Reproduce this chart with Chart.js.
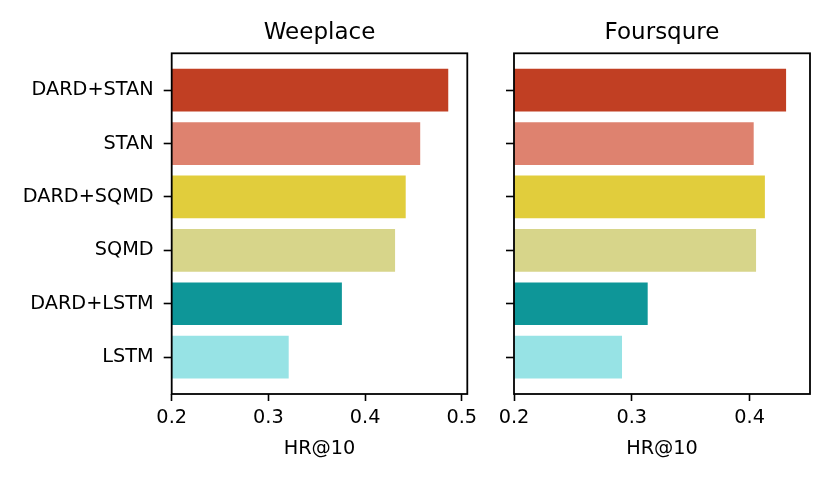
<!DOCTYPE html>
<html><head><meta charset="utf-8">
<script src="https://cdn.jsdelivr.net/npm/chart.js@4.4.0/dist/chart.umd.min.js"></script>
<style>
html,body{margin:0;padding:0;background:#fff;}
#wrap{position:relative;width:831px;height:478px;background:#fff;}
.box{position:absolute;top:0;height:478px;}
#b1{left:0;width:500px;}
#b2{left:480px;width:351px;}
</style></head><body>
<div id="wrap"><div class="box" id="b1"><canvas id="c1"></canvas></div><div class="box" id="b2"><canvas id="c2"></canvas></div></div>
<script>
const methods = ['DARD+STAN','STAN','DARD+SQMD','SQMD','DARD+LSTM','LSTM'];
const weeplaceHR = [0.486, 0.457, 0.442, 0.431, 0.376, 0.321];
const foursquareHR = [0.431, 0.4035, 0.413, 0.4055, 0.3135, 0.2917];
const barColors = ['#C13F23','#DE826F','#E1CD3C','#D7D58A','#0E9698','#97E3E5'];
const weeplaceTicks = [0.2, 0.3, 0.4, 0.5];
const foursquareTicks = [0.2, 0.3, 0.4];
const panelTitles = ['Weeplace', 'Foursqure'];
const xAxisTitle = 'HR@10';

const FONT = 'DejaVu Sans';
Chart.defaults.font.family = FONT;
Chart.defaults.color = '#000';

const framePlugin = {
  id: 'frame',
  afterDatasetsDraw(chart) {
    const {ctx, chartArea: a} = chart;
    ctx.save();
    ctx.strokeStyle = '#000';
    ctx.lineWidth = 1.8;
    ctx.strokeRect(a.left, a.top, a.right - a.left, a.bottom - a.top);
    ctx.restore();
  }
};

function makeChart(id, title, values, xTicks, xMax, showYLabels, yWidth, padRight) {
  return new Chart(document.getElementById(id), {
    type: 'bar',
    data: {
      datasets: [{
        data: values.map((v, i) => ({x: v, y: i})),
        backgroundColor: barColors,
        borderWidth: 0,
        categoryPercentage: 1,
        barPercentage: 0.8
      }]
    },
    plugins: [framePlugin],
    options: {
      indexAxis: 'y',
      responsive: true,
      maintainAspectRatio: false,
      animation: false,
      layout: {padding: {left: 0, right: padRight, top: 0, bottom: 0}},
      plugins: {
        legend: {display: false},
        tooltip: {enabled: false},
        title: {
          display: true,
          fullSize: false,
          text: title,
          color: '#000',
          font: {size: 23, weight: 'normal', family: FONT},
          padding: {top: 19, bottom: 6.7}
        }
      },
      scales: {
        x: {
          type: 'linear',
          min: 0.2,
          max: xMax,
          afterBuildTicks: s => { s.ticks = xTicks.map(v => ({value: v})); },
          afterFit: s => { s.height = 84; },
          grid: {display: true, drawOnChartArea: false, drawTicks: true, tickLength: 7, tickColor: '#000', tickWidth: 1.6},
          border: {display: false},
          ticks: {
            color: '#000',
            font: {size: 19.3, family: FONT},
            padding: 5,
            maxRotation: 0,
            autoSkip: false,
            callback: v => v.toFixed(1)
          },
          title: {
            display: true,
            text: xAxisTitle,
            color: '#000',
            font: {size: 19.3, family: FONT},
            padding: {top: 0, bottom: 17.6}
          }
        },
        y: {
          type: 'linear',
          min: -0.69,
          max: 5.69,
          reverse: true,
          offset: false,
          afterBuildTicks: s => { s.ticks = methods.map((_, i) => ({value: i})); },
          afterFit: s => { s.width = yWidth; },
          grid: {display: true, offset: false, drawOnChartArea: false, drawTicks: true, tickLength: 8, tickColor: '#000', tickWidth: 1.6},
          border: {display: false},
          ticks: {
            display: showYLabels,
            color: '#000',
            font: {size: 19.3, family: FONT},
            padding: 10,
            autoSkip: false,
            callback: v => methods[v]
          }
        }
      }
    }
  });
}

makeChart('c1', panelTitles[0], weeplaceHR, weeplaceTicks, 0.5057, true, 171.7, 32.7);
makeChart('c2', panelTitles[1], foursquareHR, foursquareTicks, 0.4513, false, 34, 21);
</script>
</body></html>
